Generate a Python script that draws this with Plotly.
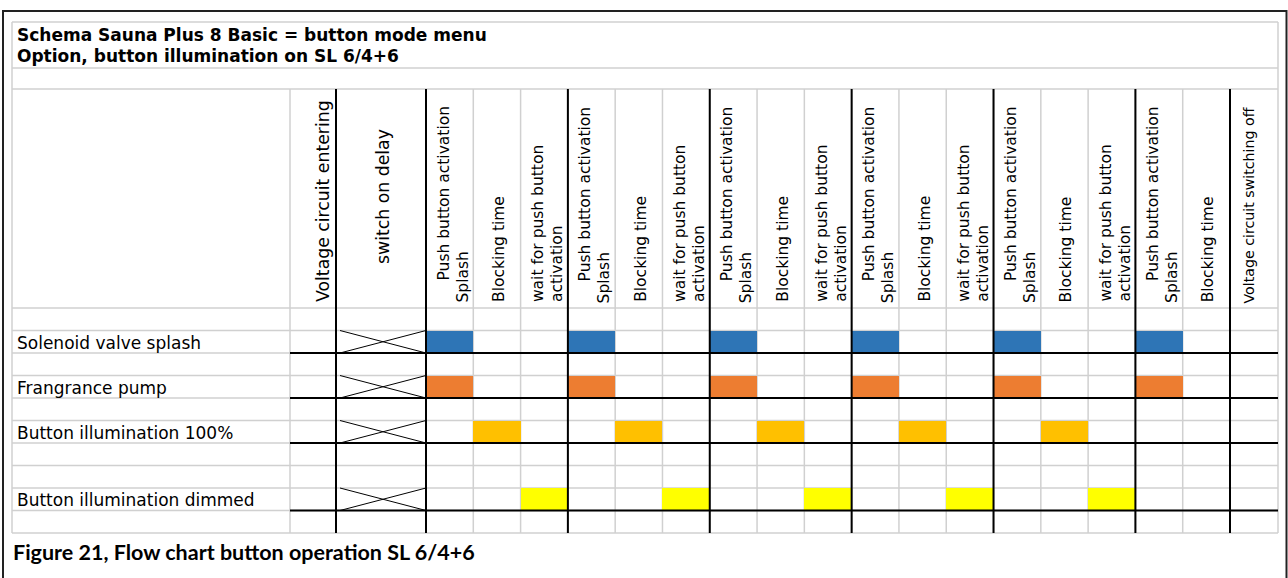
import plotly.graph_objects as go

# ---------------- data ----------------
title_lines = ["Schema Sauna Plus 8 Basic = button mode menu",
               "Option, button illumination on SL 6/4+6"]
footer = "Figure 21, Flow chart button operation SL 6/4+6"
start_columns = ["Voltage circuit entering", "switch on delay"]
phase_columns = [
    ["Push button activation", "Splash"], ["Blocking time"], ["wait for push button", "activation"],
    ["Push button activation", "Splash"], ["Blocking time"], ["wait for push button", "activation"],
    ["Push button activation", "Splash"], ["Blocking time"], ["wait for push button", "activation"],
    ["Push button activation", "Splash"], ["Blocking time"], ["wait for push button", "activation"],
    ["Push button activation", "Splash"], ["Blocking time"], ["wait for push button", "activation"],
    ["Push button activation", "Splash"], ["Blocking time"],
]
end_column = "Voltage circuit switching off"
signals = ["Solenoid valve splash", "Frangrance pump",
           "Button illumination 100%", "Button illumination dimmed"]
solenoid_valve_splash = [1, 0, 0, 1, 0, 0, 1, 0, 0, 1, 0, 0, 1, 0, 0, 1, 0]
fragrance_pump        = [1, 0, 0, 1, 0, 0, 1, 0, 0, 1, 0, 0, 1, 0, 0, 1, 0]
button_illum_100      = [0, 1, 0, 0, 1, 0, 0, 1, 0, 0, 1, 0, 0, 1, 0, 0, 0]
button_illum_dimmed   = [0, 0, 1, 0, 0, 1, 0, 0, 1, 0, 0, 1, 0, 0, 1, 0, 0]
signal_states = [solenoid_valve_splash, fragrance_pump, button_illum_100, button_illum_dimmed]
switch_on_delay_undefined = [1, 1, 1, 1]

# ---------------- layout geometry / styles ----------------
W, H = 1288, 578
GRID_L, GRID_R, GRID_T = 12, 1278, 22
TITLE_B, GAP_B, HEAD_B = 68, 89, 308
LABEL_R, VOLT_R, DELAY_R = 290, 336, 426
COLW = (1230 - 426) / 17
ROWH = 22.5
N_ROWS = 10
signal_row_idx = [1, 3, 5, 8]
colors = ["#2E75B6", "#ED7D31", "#FFC000", "#FFFF00"]
GREY = "#d0d0d0"
FONT = "DejaVu Sans, Verdana, sans-serif"

phase_left = [DELAY_R + k * COLW for k in range(len(phase_columns))]
END_L = DELAY_R + len(phase_columns) * COLW
row_top = [HEAD_B + i * ROWH for i in range(N_ROWS + 1)]
GRID_B = row_top[-1]

fig = go.Figure()

# coloured state blocks
for name, states, ri, col in zip(signals, signal_states, signal_row_idx, colors):
    xs = [phase_left[k] + COLW / 2 for k, s in enumerate(states) if s]
    fig.add_trace(go.Bar(
        x=xs, y=[ROWH] * len(xs), base=[row_top[ri]] * len(xs), width=COLW,
        marker=dict(color=col, line=dict(width=0)), name=name, showlegend=False,
        hoverinfo="skip"))

# crosses in switch-on-delay column
cx, cy = [], []
for ri, u in zip(signal_row_idx, switch_on_delay_undefined):
    if u:
        t, b = row_top[ri], row_top[ri + 1]
        cx += [VOLT_R + 4, DELAY_R, None, VOLT_R + 4, DELAY_R, None]
        cy += [t, b, None, b, t, None]
fig.add_trace(go.Scatter(x=cx, y=cy, mode="lines", line=dict(color="black", width=1),
                         showlegend=False, hoverinfo="skip"))

shapes = []
def line(x0, y0, x1, y1, color, w, layer="above"):
    shapes.append(dict(type="line", x0=x0, y0=y0, x1=x1, y1=y1, xref="x", yref="y",
                       line=dict(color=color, width=w), layer=layer))

# outer frame
shapes.append(dict(type="rect", x0=3, y0=11, x1=1286.5, y1=600, xref="x", yref="y",
                   line=dict(color="#222", width=2), layer="below"))
# grey grid
for y in [GRID_T, TITLE_B, GAP_B] + row_top:
    line(GRID_L, y, GRID_R, y, GREY, 1.5, "below")
line(GRID_L, GRID_T, GRID_L, GRID_B, GREY, 1.5, "below")
line(GRID_R, GRID_T, GRID_R, GRID_B, GREY, 1.5, "below")
for x in [LABEL_R] + phase_left[1:]:
    line(x, GAP_B, x, GRID_B, GREY, 1.5, "below")
# black separators
for x in [VOLT_R, DELAY_R] + [phase_left[k] for k in range(3, len(phase_left), 3)] + [END_L]:
    line(x, GAP_B, x, GRID_B, "black", 2)
for ri in signal_row_idx:
    line(LABEL_R, row_top[ri + 1], GRID_R, row_top[ri + 1], "black", 2)

ann = []
def text(x, y, s, size, xa="left", ya="middle", bold=False, angle=0, family=FONT):
    ann.append(dict(x=x, y=y, xref="x", yref="y", text=f"<b>{s}</b>" if bold else s,
                    showarrow=False, xanchor=xa, yanchor=ya, textangle=angle,
                    font=dict(family=family, size=size, color="black")))

text(15, 35, title_lines[0], 17, bold=True)
text(15, 56, title_lines[1], 17, bold=True)
text(11, 552, footer, 21.5, bold=True, family="Lato, Carlito, sans-serif")

for name, ri in zip(signals, signal_row_idx):
    text(15, (row_top[ri] + row_top[ri + 1]) / 2 + 1, name, 17)

text(323, 304, start_columns[0], 17.3, xa="center", ya="bottom", angle=-90)
text(383, 197, start_columns[1], 17.3, xa="center", ya="middle", angle=-90)
for k, lines in enumerate(phase_columns):
    x0 = phase_left[k]
    if len(lines) == 1:
        text(x0 + COLW / 2 + 2, 304, lines[0], 15.5, xa="center", ya="bottom", angle=-90)
    elif lines[1] == "Splash":
        text(x0 + 17, 283, lines[0], 15.5, xa="center", ya="bottom", angle=-90)
        text(x0 + 36, 305, lines[1], 15.5, xa="center", ya="bottom", angle=-90)
    else:
        text(x0 + 17, 304, lines[0], 15.5, xa="center", ya="bottom", angle=-90)
        text(x0 + 36, 304, lines[1], 15.5, xa="center", ya="bottom", angle=-90)
text(END_L + 18, 306, end_column, 14.2, xa="center", ya="bottom", angle=-90)

fig.update_layout(
    width=W, height=H, margin=dict(l=0, r=0, t=0, b=0),
    paper_bgcolor="white", plot_bgcolor="white", barmode="overlay", bargap=0,
    xaxis=dict(range=[0, W], visible=False, fixedrange=True),
    yaxis=dict(range=[H, 0], visible=False, fixedrange=True),
    shapes=shapes, annotations=ann, showlegend=False,
)
fig.write_html("out.html", config={"displayModeBar": False},
               post_script="document.body.style.margin='0';document.body.style.overflow='hidden';")
